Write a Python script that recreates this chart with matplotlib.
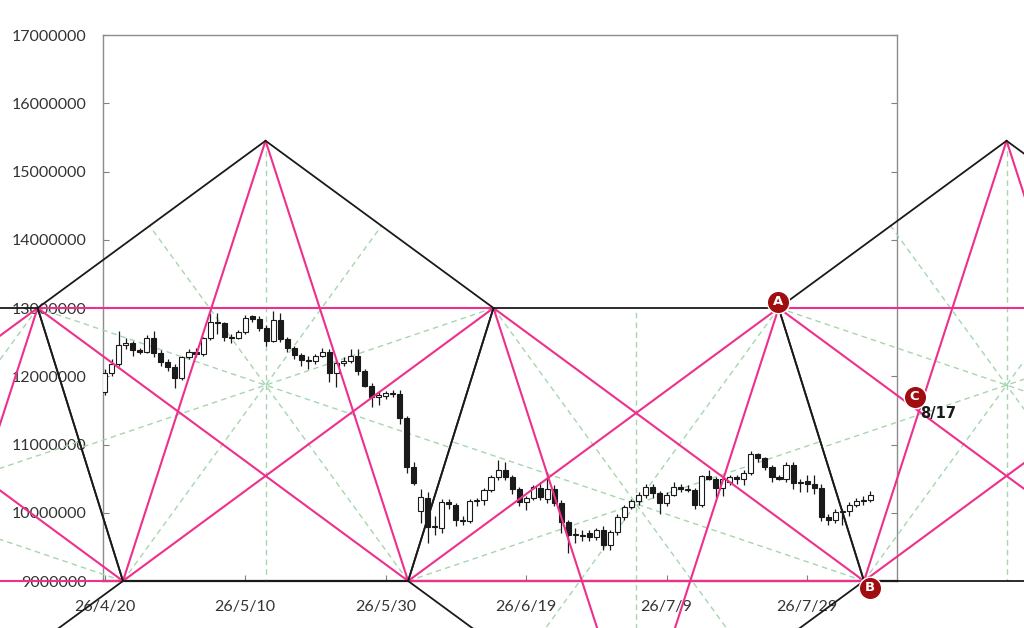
import numpy as np
import matplotlib
matplotlib.use("Agg")
import matplotlib.pyplot as plt

# daily candles from 26/4/20 (prices in millions)
opens = [11.77, 12.05, 12.18, 12.46, 12.49, 12.38, 12.36, 12.56, 12.34, 12.21,
         12.14, 11.97, 12.28, 12.36, 12.33, 12.56, 12.80, 12.78, 12.58, 12.56,
         12.65, 12.88, 12.84, 12.71, 12.52, 12.82, 12.55, 12.41, 12.31, 12.24,
         12.22, 12.30, 12.36, 12.05, 12.20, 12.23, 12.30, 12.08, 11.86, 11.70,
         11.71, 11.75, 11.74, 11.39, 10.67, 10.03, 10.22, 9.79, 9.78, 10.16,
         10.12, 9.89, 9.88, 10.17, 10.18, 10.33, 10.52, 10.62, 10.52, 10.35,
         10.16, 10.22, 10.36, 10.20, 10.35, 10.14, 9.86, 9.67, 9.68, 9.70,
         9.64, 9.75, 9.53, 9.72, 9.94, 10.08, 10.17, 10.26, 10.38, 10.29,
         10.14, 10.26, 10.38, 10.35, 10.33, 10.11, 10.54, 10.50, 10.36, 10.45,
         10.52, 10.50, 10.58, 10.86, 10.80, 10.67, 10.52, 10.50, 10.70, 10.43,
         10.46, 10.42, 10.36, 9.94, 9.89, 10.01, 10.02, 10.11, 10.17, 10.19]
highs = [12.10, 12.25, 12.66, 12.56, 12.52, 12.42, 12.60, 12.66, 12.38, 12.26,
         12.18, 12.30, 12.40, 12.42, 12.58, 12.92, 12.92, 12.80, 12.62, 12.68,
         12.90, 12.90, 12.88, 12.75, 12.96, 12.92, 12.58, 12.45, 12.34, 12.30,
         12.32, 12.42, 12.40, 12.24, 12.28, 12.40, 12.40, 12.10, 11.90, 11.78,
         11.78, 11.80, 11.80, 11.42, 10.75, 10.35, 10.30, 9.95, 10.20, 10.20,
         10.15, 9.95, 10.20, 10.22, 10.36, 10.55, 10.77, 10.74, 10.55, 10.38,
         10.25, 10.40, 10.45, 10.60, 10.40, 10.18, 9.90, 9.78, 9.75, 9.75,
         9.78, 9.80, 9.75, 9.98, 10.12, 10.20, 10.30, 10.42, 10.42, 10.32,
         10.30, 10.45, 10.42, 10.40, 10.36, 10.56, 10.62, 10.52, 10.52, 10.55,
         10.56, 10.62, 10.90, 10.88, 10.82, 10.70, 10.56, 10.74, 10.74, 10.50,
         10.56, 10.56, 10.42, 9.98, 10.05, 10.06, 10.16, 10.22, 10.25, 10.32]
lows = [11.72, 12.00, 12.15, 12.40, 12.30, 12.33, 12.34, 12.28, 12.15, 12.08,
        11.83, 11.95, 12.25, 12.28, 12.30, 12.53, 12.62, 12.52, 12.48, 12.54,
        12.62, 12.80, 12.66, 12.45, 12.50, 12.50, 12.35, 12.25, 12.15, 12.10,
        12.18, 12.28, 11.92, 11.84, 12.15, 12.20, 12.02, 11.84, 11.55, 11.58,
        11.66, 11.70, 11.30, 10.58, 10.40, 9.85, 9.56, 9.68, 9.70, 10.05,
        9.80, 9.82, 9.85, 10.10, 10.12, 10.30, 10.48, 10.48, 10.28, 10.10,
        10.04, 10.18, 10.18, 10.15, 10.10, 9.70, 9.41, 9.55, 9.58, 9.58,
        9.60, 9.45, 9.45, 9.68, 9.90, 10.05, 10.12, 10.22, 10.22, 9.98,
        10.10, 10.24, 10.30, 10.30, 10.05, 10.08, 10.48, 10.22, 10.25, 10.40,
        10.42, 10.40, 10.55, 10.75, 10.62, 10.45, 10.48, 10.45, 10.35, 10.30,
        10.30, 10.28, 9.88, 9.82, 9.85, 9.82, 9.95, 10.08, 10.12, 10.16]
closes = [12.05, 12.18, 12.46, 12.49, 12.38, 12.36, 12.56, 12.34, 12.21, 12.14,
          11.97, 12.28, 12.36, 12.33, 12.56, 12.80, 12.78, 12.58, 12.56, 12.65,
          12.86, 12.84, 12.71, 12.52, 12.82, 12.55, 12.41, 12.31, 12.24, 12.22,
          12.30, 12.36, 12.05, 12.20, 12.23, 12.30, 12.08, 11.86, 11.70, 11.71,
          11.75, 11.74, 11.39, 10.67, 10.43, 10.23, 9.79, 9.79, 10.16, 10.13,
          9.89, 9.88, 10.17, 10.18, 10.33, 10.52, 10.62, 10.52, 10.35, 10.16,
          10.22, 10.37, 10.23, 10.35, 10.14, 9.86, 9.67, 9.67, 9.66, 9.64,
          9.75, 9.53, 9.72, 9.94, 10.08, 10.17, 10.26, 10.38, 10.29, 10.14,
          10.26, 10.38, 10.35, 10.33, 10.11, 10.54, 10.50, 10.36, 10.50, 10.52,
          10.50, 10.58, 10.86, 10.80, 10.67, 10.52, 10.50, 10.70, 10.43, 10.45,
          10.42, 10.36, 9.94, 9.89, 10.01, 10.02, 10.11, 10.17, 10.19, 10.26]

tick_days = [0, 20, 40, 60, 80, 100]
tick_labels = ["26/4/20", "26/5/10", "26/5/30", "26/6/19", "26/7/9", "26/7/29"]
y_ticks = [9e6, 10e6, 11e6, 12e6, 13e6, 14e6, 15e6, 16e6, 17e6]

# drawn-on lattice: cells alternate apex up / apex down
cell_mid = [-29.85, 22.9, 75.65, 128.4]
cell_dir = [-1, 1, -1, 1]
wide_span = 64.9
narrow_span = 40.6
band_lo, band_hi = 9.0e6, 13.0e6
apex_up, apex_dn = 15.45e6, 6.55e6
centre_up, centre_dn = 11.87e6, 10.13e6

mark_labels = ["A", "B", "C"]
mark_days = [95.9, 108.95, 115.3]
mark_prices = [13.09e6, 8.9e6, 11.70e6]
note_text = "8/17"
note_day, note_price = 116.1, 11.46e6

PINK = "#ee2f8c"
GREEN = "#a6d6ae"
BLACK = "#1a1a1a"
DARKRED = "#a00d10"


def ray_exit(p, q, poly):
    # point where the ray p->q leaves the polygon, past q
    dx, dy = q[0] - p[0], (q[1] - p[1]) / 1e6
    best = None
    for a, b in zip(poly, poly[1:] + poly[:1]):
        ex, ey = b[0] - a[0], (b[1] - a[1]) / 1e6
        den = dx * ey - dy * ex
        if abs(den) < 1e-12:
            continue
        wx, wy = a[0] - p[0], (a[1] - p[1]) / 1e6
        t = (wx * ey - wy * ex) / den
        u = (wx * dy - wy * dx) / den
        if t > 1 + 1e-9 and -1e-9 <= u <= 1 + 1e-9:
            if best is None or t < best:
                best = t
    return (p[0] + best * (q[0] - p[0]), p[1] + best * (q[1] - p[1]))


def seg(ax, a, b, **kw):
    ax.plot([a[0], b[0]], [a[1], b[1]], clip_on=False, solid_capstyle="round", **kw)


def draw_cell(ax, mid, d):
    wide_y = band_hi if d > 0 else band_lo
    narrow_y = band_lo if d > 0 else band_hi
    apex = (mid, apex_up if d > 0 else apex_dn)
    cen = (mid, centre_up if d > 0 else centre_dn)
    w1 = (mid - wide_span / 2, wide_y)
    w2 = (mid + wide_span / 2, wide_y)
    n1 = (mid - narrow_span / 2, narrow_y)
    n2 = (mid + narrow_span / 2, narrow_y)
    poly = [w1, apex, w2, n2, n1]

    gkw = dict(color=GREEN, lw=1.0, ls=(0, (4, 3)), zorder=3)
    seg(ax, apex, (mid, narrow_y), **gkw)
    for corner in (w1, w2, n1, n2):
        seg(ax, corner, ray_exit(corner, cen, poly), **gkw)

    pkw = dict(color=PINK, lw=1.5, zorder=6)
    for a, b in [(w1, w2), (n1, apex), (n2, apex), (n1, w2), (w1, n2)]:
        seg(ax, a, b, **pkw)

    bkw = dict(color=BLACK, lw=1.3, zorder=7)
    for a, b in [(w1, apex), (apex, w2), (w1, n1), (w2, n2), (n1, n2)]:
        seg(ax, a, b, **bkw)


def main():
    fig = plt.figure(figsize=(10.24, 6.28), dpi=100)
    ax = fig.add_axes([103.3 / 1024, 1 - 581 / 628, (897 - 103.3) / 1024, (581 - 35) / 628])

    days = np.arange(len(closes))
    o = np.array(opens) * 1e6
    h = np.array(highs) * 1e6
    l = np.array(lows) * 1e6
    c = np.array(closes) * 1e6

    ax.vlines(days, l, h, color=BLACK, lw=0.9, zorder=4)
    up = c >= o
    body_lo = np.minimum(o, c)
    body_h = np.maximum(np.abs(c - o), 0.02e6)
    ax.bar(days[up], body_h[up], bottom=body_lo[up], width=0.72,
           facecolor="white", edgecolor=BLACK, lw=0.8, zorder=5)
    ax.bar(days[~up], body_h[~up], bottom=body_lo[~up], width=0.72,
           facecolor=BLACK, edgecolor=BLACK, lw=0.8, zorder=5)

    for mid, d in zip(cell_mid, cell_dir):
        draw_cell(ax, mid, d)

    ax.scatter(mark_days, mark_prices, s=260, color=DARKRED, edgecolor="white",
               lw=1.0, zorder=9, clip_on=False)
    for lab, x, y in zip(mark_labels, mark_days, mark_prices):
        ax.text(x, y, lab, color="white", fontsize=9.5, fontweight="bold",
                ha="center", va="center", zorder=10, family="DejaVu Sans")
    ax.text(note_day, note_price, note_text, fontsize=10.5, fontweight="bold",
            color=BLACK, ha="left", va="center", zorder=10, family="DejaVu Sans")

    ax.set_xlim(-0.2, 112.8)
    ax.set_ylim(9e6, 17e6)
    ax.set_xticks(tick_days)
    ax.set_xticklabels(tick_labels)
    ax.set_yticks(y_ticks)
    ax.set_yticklabels([f"{int(v)}" for v in y_ticks])
    ax.tick_params(axis="both", direction="in", length=4, color="#808080",
                   labelcolor="#333333", labelsize=11.5)
    ax.tick_params(axis="y", right=True, pad=12)
    ax.tick_params(axis="x", pad=14)
    for lab in ax.get_xticklabels() + ax.get_yticklabels():
        lab.set_family("Lato")

    for side in ("left", "right", "top"):
        ax.spines[side].set_color("#8c8c8c")
        ax.spines[side].set_linewidth(1.0)
    ax.spines["bottom"].set_color(BLACK)
    ax.spines["bottom"].set_linewidth(1.6)

    fig.savefig("out.png", dpi=100)


if __name__ == "__main__":
    main()
